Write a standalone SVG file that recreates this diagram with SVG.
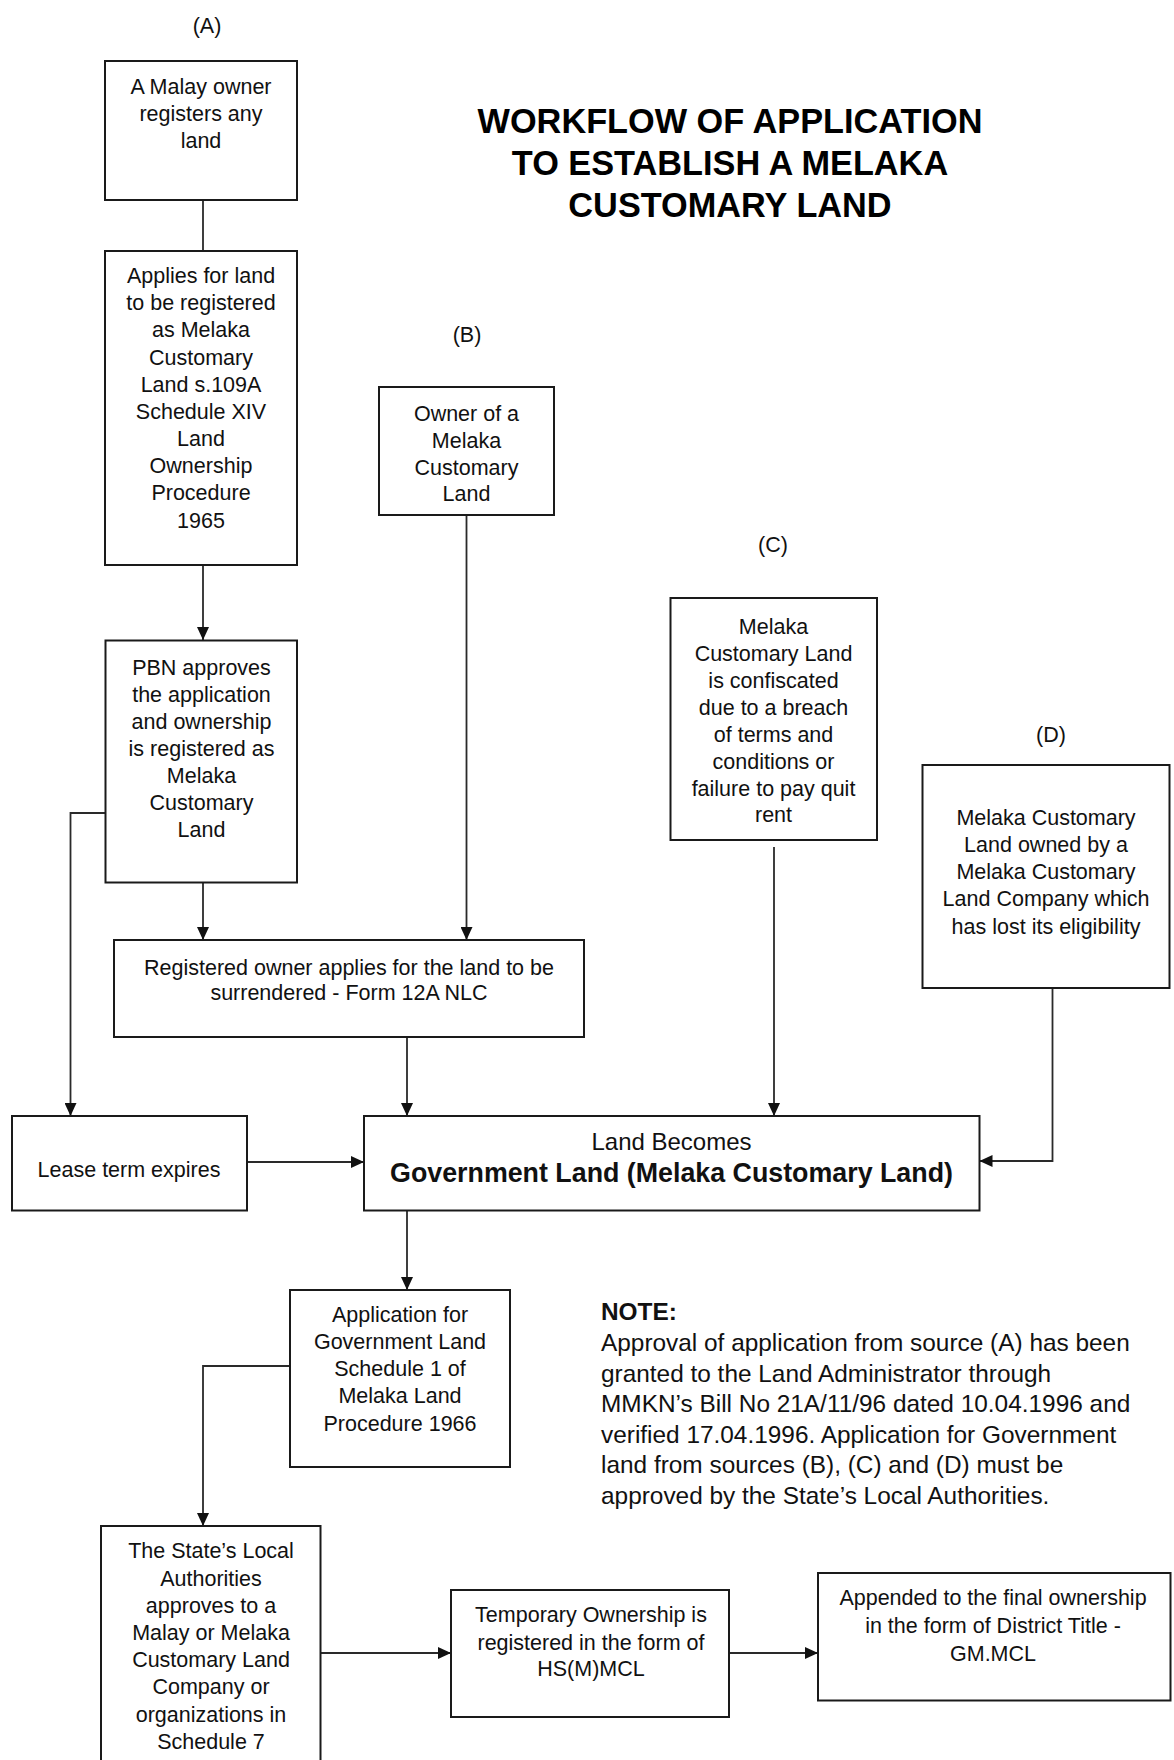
<svg xmlns="http://www.w3.org/2000/svg" width="1174" height="1760" viewBox="0 0 1174 1760">
  <style>
    .box { fill: #ffffff; stroke: #1a1a1a; stroke-width: 2; }
    .t { font-family: "Liberation Sans", Arial, sans-serif; font-size: 21.5px; fill: #111111; text-anchor: middle; }
    .lbl { font-family: "Liberation Sans", Arial, sans-serif; font-size: 21.5px; fill: #111111; text-anchor: middle; }
    .title { font-family: "Liberation Sans", Arial, sans-serif; font-size: 34.3px; font-weight: bold; fill: #000000; text-anchor: middle; }
    .note { font-family: "Liberation Sans", Arial, sans-serif; font-size: 24.4px; fill: #111111; }
    .conn { fill: none; stroke: #2a2a2a; stroke-width: 1.8; }
    .arr { marker-end: url(#head); }
  </style>
  <defs>
    <marker id="head" markerUnits="userSpaceOnUse" markerWidth="13" markerHeight="12" refX="13" refY="6" orient="auto">
      <path d="M0,0 L13,6 L0,12 z" fill="#111111"/>
    </marker>
  </defs>
  <rect width="1174" height="1760" fill="#ffffff"/>

  <!-- title -->
  <g id="title">
    <text class="title" x="730" y="133">WORKFLOW OF APPLICATION</text>
    <text class="title" x="730" y="174.5">TO ESTABLISH A MELAKA</text>
    <text class="title" x="730" y="216.5">CUSTOMARY LAND</text>
  </g>

  <!-- source labels -->
  <g id="labels">
    <text class="lbl" x="207" y="33">(A)</text>
    <text class="lbl" x="467" y="342">(B)</text>
    <text class="lbl" x="773" y="552">(C)</text>
    <text class="lbl" x="1051" y="742">(D)</text>
  </g>

  <!-- connectors -->
  <g id="connectors">
    <line class="conn" x1="203" y1="200" x2="203" y2="251"/>
    <line class="conn arr" x1="203" y1="565" x2="203" y2="640"/>
    <polyline class="conn arr" points="115,813 70.5,813 70.5,1116"/>
    <line class="conn arr" x1="203" y1="882.5" x2="203" y2="940"/>
    <line class="conn arr" x1="466.5" y1="515" x2="466.5" y2="940"/>
    <line class="conn arr" x1="407" y1="1037" x2="407" y2="1116"/>
    <line class="conn arr" x1="247" y1="1162" x2="364" y2="1162"/>
    <line class="conn arr" x1="774" y1="847" x2="774" y2="1116"/>
    <polyline class="conn arr" points="1052.5,988 1052.5,1161 979.5,1161"/>
    <line class="conn arr" x1="407" y1="1210.5" x2="407" y2="1290"/>
    <polyline class="conn arr" points="290,1366 203,1366 203,1526"/>
    <line class="conn arr" x1="320.5" y1="1653" x2="451" y2="1653"/>
    <line class="conn arr" x1="729" y1="1653" x2="818" y2="1653"/>
  </g>

  <!-- source A -->
  <g id="malay-owner">
    <rect class="box" x="105" y="61" width="192" height="139"/>
    <text class="t" x="201" y="94">A Malay owner</text>
    <text class="t" x="201" y="121">registers any</text>
    <text class="t" x="201" y="148">land</text>
  </g>

  <g id="applies-registration">
    <rect class="box" x="105" y="251" width="192" height="314"/>
    <text class="t" x="201" y="283">Applies for land</text>
    <text class="t" x="201" y="310">to be registered</text>
    <text class="t" x="201" y="337">as Melaka</text>
    <text class="t" x="201" y="365">Customary</text>
    <text class="t" x="201" y="392">Land s.109A</text>
    <text class="t" x="201" y="419">Schedule XIV</text>
    <text class="t" x="201" y="446">Land</text>
    <text class="t" x="201" y="473">Ownership</text>
    <text class="t" x="201" y="500">Procedure</text>
    <text class="t" x="201" y="528">1965</text>
  </g>

  <g id="pbn-approves">
    <rect class="box" x="105.5" y="640.5" width="191.5" height="242"/>
    <text class="t" x="201.5" y="675">PBN approves</text>
    <text class="t" x="201.5" y="702">the application</text>
    <text class="t" x="201.5" y="729">and ownership</text>
    <text class="t" x="201.5" y="756">is registered as</text>
    <text class="t" x="201.5" y="783">Melaka</text>
    <text class="t" x="201.5" y="810">Customary</text>
    <text class="t" x="201.5" y="837">Land</text>
  </g>

  <!-- source B -->
  <g id="owner-mcl">
    <rect class="box" x="379" y="387" width="175" height="128"/>
    <text class="t" x="466.5" y="421">Owner of a</text>
    <text class="t" x="466.5" y="447.5">Melaka</text>
    <text class="t" x="466.5" y="474.5">Customary</text>
    <text class="t" x="466.5" y="501">Land</text>
  </g>

  <g id="surrender">
    <rect class="box" x="114" y="940" width="470" height="97"/>
    <text class="t" x="349" y="975">Registered owner applies for the land to be</text>
    <text class="t" x="349" y="1000">surrendered - Form 12A NLC</text>
  </g>

  <!-- source C -->
  <g id="confiscated">
    <rect class="box" x="670.5" y="598" width="206.5" height="242"/>
    <text class="t" x="773.5" y="634">Melaka</text>
    <text class="t" x="773.5" y="661">Customary Land</text>
    <text class="t" x="773.5" y="688">is confiscated</text>
    <text class="t" x="773.5" y="715">due to a breach</text>
    <text class="t" x="773.5" y="742">of terms and</text>
    <text class="t" x="773.5" y="769">conditions or</text>
    <text class="t" x="773.5" y="795.5">failure to pay quit</text>
    <text class="t" x="773.5" y="822">rent</text>
  </g>

  <!-- source D -->
  <g id="company-lost-eligibility">
    <rect class="box" x="922.5" y="765" width="247" height="223"/>
    <text class="t" x="1046" y="824.5">Melaka Customary</text>
    <text class="t" x="1046" y="851.5">Land owned by a</text>
    <text class="t" x="1046" y="878.5">Melaka Customary</text>
    <text class="t" x="1046" y="906">Land Company which</text>
    <text class="t" x="1046" y="933.5">has lost its eligibility</text>
  </g>

  <g id="lease-expires">
    <rect class="box" x="12" y="1116" width="235" height="94.5"/>
    <text class="t" x="129" y="1177">Lease term expires</text>
  </g>

  <g id="government-land">
    <rect class="box" x="364" y="1116" width="615.5" height="94.5"/>
    <text class="t" x="671.5" y="1150" style="font-size:24px">Land Becomes</text>
    <text class="t" x="671.5" y="1182" style="font-size:26.8px;font-weight:bold">Government Land (Melaka Customary Land)</text>
  </g>

  <g id="application-gov-land">
    <rect class="box" x="290" y="1290" width="220" height="177"/>
    <text class="t" x="400" y="1322">Application for</text>
    <text class="t" x="400" y="1349">Government Land</text>
    <text class="t" x="400" y="1376">Schedule 1 of</text>
    <text class="t" x="400" y="1403">Melaka Land</text>
    <text class="t" x="400" y="1431">Procedure 1966</text>
  </g>

  <g id="state-approves">
    <rect class="box" x="101" y="1526" width="219.5" height="260"/>
    <text class="t" x="211" y="1558">The State’s Local</text>
    <text class="t" x="211" y="1585.5">Authorities</text>
    <text class="t" x="211" y="1612.5">approves to a</text>
    <text class="t" x="211" y="1640">Malay or Melaka</text>
    <text class="t" x="211" y="1667">Customary Land</text>
    <text class="t" x="211" y="1694">Company or</text>
    <text class="t" x="211" y="1721.5">organizations in</text>
    <text class="t" x="211" y="1749">Schedule 7</text>
  </g>

  <g id="temporary-ownership">
    <rect class="box" x="451" y="1590" width="278" height="127"/>
    <text class="t" x="591" y="1622">Temporary Ownership is</text>
    <text class="t" x="591" y="1650">registered in the form of</text>
    <text class="t" x="591" y="1676">HS(M)MCL</text>
  </g>

  <g id="final-ownership">
    <rect class="box" x="818" y="1573" width="352.5" height="127.5"/>
    <text class="t" x="993" y="1605">Appended to the final ownership</text>
    <text class="t" x="993" y="1633">in the form of District Title -</text>
    <text class="t" x="993" y="1660.5">GM.MCL</text>
  </g>

  <!-- note -->
  <g id="note">
    <text class="note" x="601" y="1320" style="font-weight:bold">NOTE:</text>
    <text class="note" x="601" y="1351">Approval of application from source (A) has been</text>
    <text class="note" x="601" y="1381.5">granted to the Land Administrator through</text>
    <text class="note" x="601" y="1412">MMKN’s Bill No 21A/11/96 dated 10.04.1996 and</text>
    <text class="note" x="601" y="1442.5">verified 17.04.1996. Application for Government</text>
    <text class="note" x="601" y="1473">land from sources (B), (C) and (D) must be</text>
    <text class="note" x="601" y="1503.5">approved by the State’s Local Authorities.</text>
  </g>
</svg>
